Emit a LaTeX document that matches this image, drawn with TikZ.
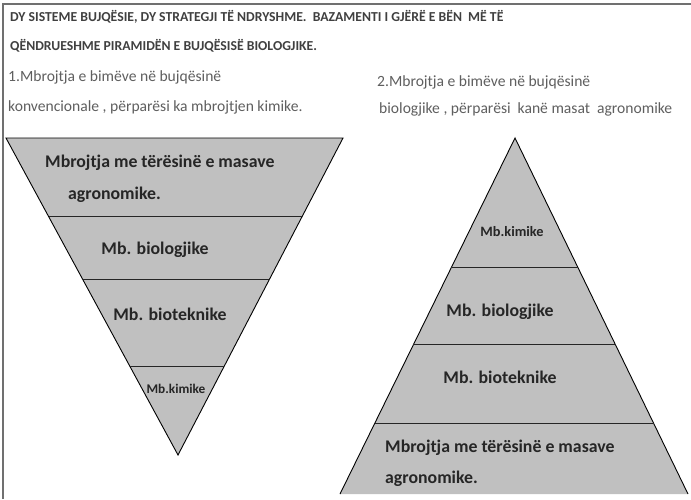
\documentclass[tikz,border=0pt]{standalone}
\usepackage{fontspec}
\setmainfont{Carlito}
\usepackage{xcolor}
\usepackage{tikz}
\usetikzlibrary{calc,positioning}
\definecolor{pyrgray}{HTML}{C0C0C0}
\definecolor{hdrgray}{HTML}{404040}
\definecolor{subgray}{HTML}{5F5F5F}
\definecolor{framegray}{HTML}{707070}
\tikzset{
	hdr/.style={anchor=west, inner sep=0pt, text=hdrgray, font=\fontsize{13.7}{15}\selectfont\bfseries},
	sub/.style={anchor=west, inner sep=0pt, text=subgray, font=\fontsize{15.6}{17}\selectfont},
	lvl/.style={inner sep=0pt, text=black!85, font=\fontsize{17.8}{20}\selectfont\bfseries},
	small lvl/.style={lvl, font=\fontsize{14.3}{16}\selectfont\bfseries},
	pyr/.style={draw=black, line width=0.9pt, line join=miter},
	sep/.style={draw=black!85, line width=0.9pt}
}

\begin{document}
\begin{tikzpicture}
	\useasboundingbox (0pt, 0pt) rectangle (691pt, -499pt);
	\fill[white] (0pt, 0pt) rectangle (691pt, -499pt);
	\draw[framegray, line width=1.5pt] (3pt, -499pt) -- (3pt, -4pt) -- (691pt, -4pt);

	% titles
	\node[hdr] (hdr1) at (10pt, -17pt) {DY SISTEME BUJQËSIE, DY STRATEGJI TË NDRYSHME.\ \ BAZAMENTI I GJËRË E BËN\ \ MË TË};
	\node[hdr] (hdr2) at (10pt, -46pt) {QËNDRUESHME PIRAMIDËN E BUJQËSISË BIOLOGJIKE.};
	\node[sub] (sub1a) at (8pt, -77pt) {1.Mbrojtja e bimëve në bujqësinë};
	\node[sub] (sub1b) at (8pt, -107pt) {konvencionale , përparësi ka mbrojtjen kimike.};
	\node[sub] (sub2a) at (377pt, -82pt) {2.Mbrojtja e bimëve në bujqësinë};
	\node[sub] (sub2b) at (379pt, -109pt) {biologjike , përparësi\ \ kanë masat\ \ agronomike};

	% inverted pyramid
	\coordinate (A1) at (6pt, -138pt);
	\coordinate (A2) at (343pt, -138pt);
	\coordinate (A3) at (178pt, -455pt);
	\fill[pyrgray] (A1) -- (A2) -- (A3) -- cycle;
	\draw[pyr] (A1) -- (A2) -- (A3) -- cycle;
	\foreach \t in {0.249, 0.445, 0.722}
		\draw[sep] ($(A1)!\t!(A3)$) -- ($(A2)!\t!(A3)$);

	\node[lvl, anchor=west] (inv1) at (45pt, -163pt) {Mbrojtja me tërësinë e masave};
	\node[lvl, anchor=west] (inv1b) at (68pt, -195pt) {agronomike.};
	\node[lvl] (inv2) at (155pt, -250pt) {Mb. biologjike};
	\node[lvl] (inv3) at (170pt, -314pt) {Mb. bioteknike};
	\node[small lvl, font=\fontsize{13.3}{15}\selectfont\bfseries] (inv4) at (176pt, -389pt) {Mb.kimike};

	% pyramid, base cut off
	\coordinate (P1) at (515pt, -138pt);
	\coordinate (P2) at (340pt, -494pt);
	\coordinate (P3) at (688pt, -494pt);
	\fill[pyrgray] (P1) -- (P2) -- (P3) -- cycle;
	\draw[pyr] (P2) -- (P1) -- (P3);
	\foreach \t in {0.365, 0.581, 0.801}
		\draw[sep] ($(P1)!\t!(P2)$) -- ($(P1)!\t!(P3)$);

	\node[small lvl] (pyr4) at (512pt, -232pt) {Mb.kimike};
	\node[lvl] (pyr2) at (500pt, -312pt) {Mb. biologjike};
	\node[lvl] (pyr3) at (500pt, -377pt) {Mb. bioteknike};
	\node[lvl, anchor=west] (pyr1) at (385pt, -448pt) {Mbrojtja me tërësinë e masave};
	\node[lvl, anchor=west] (pyr1b) at (385pt, -479pt) {agronomike.};
\end{tikzpicture}
\end{document}
